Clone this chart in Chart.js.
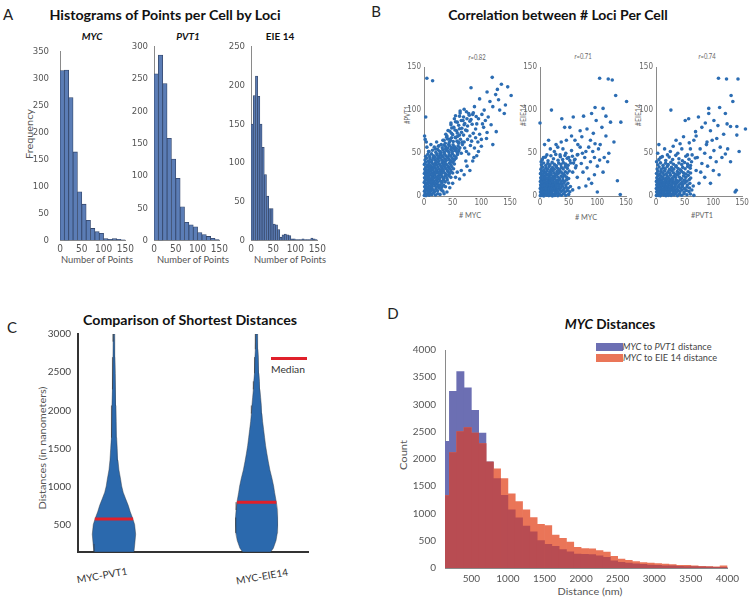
<!DOCTYPE html>
<html>
<head>
<meta charset="utf-8">
<script src="https://cdn.jsdelivr.net/npm/chart.js@4.4.1/dist/chart.umd.min.js"></script>
<style>
  body { margin: 0; width: 750px; height: 599px; position: relative; overflow: hidden; background: #fff; font-family: Lato, "Open Sans", sans-serif; }
  canvas { position: absolute; }
  .t { position: absolute; white-space: nowrap; transform: translate(-50%, -50%); line-height: 1; }
  .letter { font-size: 15px; color: #222; }
  .title { font-size: 14px; font-weight: bold; color: #111; }
  .sub { font-size: 10px; font-weight: bold; color: #111; }
  .lab { font-size: 10px; color: #555; }
  .small { font-size: 8px; color: #666; }
  .leg { font-size: 9.5px; color: #444; }
  .key { position: absolute; }
</style>
</head>
<body>

<!-- panel letters -->
<div class="t letter" style="left:8px;top:14px">A</div>
<div class="t letter" style="left:376px;top:11px">B</div>
<div class="t letter" style="left:12px;top:327px">C</div>
<div class="t letter" style="left:393px;top:313px">D</div>

<!-- panel A text -->
<div class="t title" style="left:165px;top:15px" data-w="231">Histograms of Points per Cell by Loci</div>
<div class="t sub" style="left:92px;top:36px"><i>MYC</i></div>
<div class="t sub" style="left:188px;top:36px"><i>PVT1</i></div>
<div class="t sub" style="left:280px;top:36px">EIE 14</div>
<div class="t lab" style="left:29px;top:134px" data-r="-90" data-w="50">Frequency</div>
<div class="t lab" style="left:97px;top:259px" data-w="72">Number of Points</div>
<div class="t lab" style="left:193px;top:259px" data-w="72">Number of Points</div>
<div class="t lab" style="left:290px;top:259px" data-w="72">Number of Points</div>

<!-- panel B text -->
<div class="t title" style="left:558px;top:15px" data-w="220">Correlation between # Loci Per Cell</div>
<div class="t small" style="left:477px;top:57px" data-w="17"><i>r</i>=0.82</div>
<div class="t small" style="left:583px;top:56px" data-w="17"><i>r</i>=0.71</div>
<div class="t small" style="left:707px;top:56px" data-w="17"><i>r</i>=0.74</div>
<div class="t small" style="left:407px;top:115px" data-r="-90" data-w="18">#PVT1</div>
<div class="t small" style="left:523px;top:115px" data-r="-90" data-w="22">#EIE14</div>
<div class="t small" style="left:638px;top:115px" data-r="-90" data-w="22">#EIE14</div>
<div class="t small" style="left:470px;top:215px" data-w="22"># MYC</div>
<div class="t small" style="left:586px;top:217px" data-w="22"># MYC</div>
<div class="t small" style="left:702px;top:215px" data-w="22">#PVT1</div>

<!-- panel C text -->
<div class="t title" style="left:190px;top:320px;font-size:13px" data-w="214">Comparison of Shortest Distances</div>
<div class="t lab" style="left:42px;top:448px" data-r="-90" data-w="123">Distances (in nanometers)</div>
<div class="t lab" style="left:102px;top:575px;color:#333" data-r="-10" data-w="51">MYC-PVT1</div>
<div class="t lab" style="left:262px;top:576px;color:#333" data-r="-10" data-w="53">MYC-EIE14</div>
<div class="key" style="left:271px;top:357px;width:36px;height:3px;background:#e0202a"></div>
<div class="t lab" style="left:288px;top:369px;color:#333" data-w="34">Median</div>

<!-- panel D text -->
<div class="t title" style="left:610px;top:324px;font-size:13px" data-w="90"><i>MYC</i> Distances</div>
<div class="t lab" style="left:403px;top:455px" data-r="-90" data-w="30">Count</div>
<div class="t lab" style="left:590px;top:591px" data-w="65">Distance (nm)</div>
<div class="key" style="left:596px;top:343px;width:27px;height:8px;background:#6c6fb3"></div>
<div class="key" style="left:596px;top:354px;width:27px;height:8px;background:#ea7558"></div>
<div class="t leg" style="left:667px;top:347px" data-w="89"><i>MYC</i> to <i>PVT1</i> distance</div>
<div class="t leg" style="left:670px;top:358px" data-w="94"><i>MYC</i> to EIE 14 distance</div>

<script>
// ---- panel A: points per cell histograms ----
const histBinWidth = 10;
const mycCounts = [315, 316, 265, 164, 90, 67, 37, 22, 16, 13, 3, 2, 3, 2, 1];
const pvt1Counts = [258, 287, 243, 158, 126, 96, 52, 28, 24, 21, 12, 9, 6, 3, 1];
const eie14BinWidth = 5;
const eie14Counts = [150, 187, 212, 186, 150, 120, 85, 57, 41, 41, 21, 20, 14, 4, 7, 8, 7, 6, 2, 2, 1, 1, 1, 2, 1, 1, 1, 3, 2, 1];
const histYMax = [350, 300, 250];
const histXTicks = [0, 50, 100, 150];

// ---- panel B: loci per cell scatter (flat x, y pairs) ----
const scatterTicks = [0, 50, 100, 150];
const mycPvt1Pts = [
  5,137, 15,134, 119,138, 82,126, 135,130, 128,124, 146,127, 152,117, 110,121, 97,113, 130,112, 142,106, 120,104, 88,104,
  70,101, 63,99, 78,96, 101,95, 112,92, 126,75, 107,88, 82,89, 92,84, 70,83, 66,79, 57,76, 62,71, 104,80, 97,72, 86,73,
  76,66, 94,63, 109,67, 81,59, 88,56, 100,58, 71,56, 65,50, 78,49, 92,47, 85,41, 73,41, 3,92, 1,70, 4,63, 2,66, 117,83,
  140,96, 75,76, 68,88, 58,86, 52,80, 48,73, 55,68, 45,66, 60,63, 70,63, 80,70, 90,78, 95,90, 85,95, 75,90, 105,100,
  115,110, 125,118, 132,100, 102,84, 67,60, 74,52, 83,64, 90,68, 60,52, 50,56, 43,60, 38,55, 30,60, 35,65, 25,58, 20,55,
  12,60, 8,52, 5,57, 40,70, 47,85, 62,93, 53,90, 100,66, 110,74, 120,60, 95,52, 87,45, 65,30, 75,35, 80,30, 58,28, 70,25,
  62,20, 50,15, 45,10, 40,5, 35,3, 55,22,
  0.5,1, 2,3.2, 3.5,0.8, 5,2.5, 7,4.1, 9,1.3, 11,3.6, 14,2, 17,4.4, 20,1.5, 24,3, 28,2.2,
  0.8,6, 2.6,8.5, 4.3,7, 6.1,9.3, 7.9,5.8, 9.7,8, 12,6.5, 13.8,9.1, 16.2,7.2, 18.5,5.5, 21,8.8, 23.6,6.3, 26.4,9.5, 29.8,7.5, 33,6,
  1.2,11, 3,13.5, 4.8,10.6, 6.5,14.2, 8.6,12, 10.4,10.3, 12.5,13.8, 14.3,11.4, 16.7,14.6, 19,12.2, 21.4,10.8, 23.2,14, 25.7,11.6,
  28.5,13.2, 31,10.4, 34.2,12.8, 37.5,11,
  0.4,16, 2.2,18.7, 4,15.5, 5.9,19.4, 7.3,17, 9.2,15.8, 11.1,18.9, 13,16.4, 15.2,19.6, 17.4,17.3, 19.6,15.2, 21.8,18.5, 24,16.6,
  26.3,19.8, 28.8,17.6, 31.5,15.9, 34,18.8, 37,16.7, 40.5,19, 43,15.5,
  1,21.5, 3.1,24, 5.2,20.7, 6.8,23.6, 8.9,21.9, 10.8,24.7, 12.7,20.4, 14.6,23.1, 16.5,21, 18.7,24.4, 20.9,22.2, 23,20.6, 25.1,23.8,
  27.4,21.4, 29.6,24.6, 32,22.5, 34.5,20.8, 37.2,23.9, 40,21.6, 43.4,24.2, 46.8,22,
  0.6,26.4, 2.5,29.2, 4.6,27, 6.4,25.5, 8.3,28.6, 10.2,26.2, 12.2,29.5, 14,27.3, 16,25.4, 18.1,28.3, 20.3,26.6, 22.4,29.8, 24.6,27.6,
  26.8,25.7, 29,28.9, 31.3,26.8, 33.8,29.4, 36.3,27.1, 38.9,25.3, 41.5,28.7, 44.2,26.3, 47,29, 50,27,
  1.4,31.5, 3.6,33.8, 5.5,30.6, 7.4,34.4, 9.5,32, 11.5,30.3, 13.5,33.5, 15.6,31.2, 17.7,34.7, 19.8,32.5, 22,30.8, 24.2,34, 26.4,31.7,
  28.7,30.2, 31,33.3, 33.2,31, 35.6,34.5, 38,32.2, 40.5,30.5, 43,33.6, 45.7,31.4, 48.5,34.2, 51.5,32,
  0.7,37, 2.9,39.4, 6.2,36.2, 8.7,38.7, 11,35.6, 13.2,39.6, 15.4,37.4, 17.6,35.3, 19.9,38.4, 22.2,36.5, 24.5,39.7, 26.9,37.2, 29.2,35.5,
  31.6,38.9, 34,36.6, 36.5,39.2, 39,37, 41.6,35.2, 44.3,38.5, 47,36.4, 50,39.5, 53,37.5,
  1.8,42, 4.4,44.2, 7.7,41, 10.6,43.7, 13.8,41.6, 16.3,44.6, 18.9,42.3, 21.3,40.4, 23.8,43.5, 26.2,41.3, 28.6,44.4, 31.2,42.1, 33.7,40.3,
  36.2,43.3, 38.8,41.5, 41.4,44.8, 44,42.6, 46.7,40.6, 49.5,43.8, 52.4,41.7, 55.5,44,
  3,46.5, 6.8,48.8, 10,46, 13,49.2, 16.8,47, 19.5,45.5, 22.5,48.6, 25.4,46.3, 28,49.6, 30.6,47.4, 33.4,45.7, 36,48.9, 38.6,46.8,
  41.3,45.2, 44,48.2, 46.8,46.5, 49.7,49.4, 52.6,47.1, 55.8,45.6, 58.5,48.5,
  8.5,52, 14.8,53.5, 20.7,51, 24,54.3, 27.3,52.2, 30,50.6, 32.8,53.8, 35.5,51.4, 38.2,54.7, 41,52.6, 43.7,50.8, 46.5,54, 49.3,51.9,
  52.2,54.8, 55,52.8, 58,50.5, 61,53.6,
  18,57, 26,58.5, 31.8,56.2, 35,59.3, 38,57.5, 41.2,55.6, 44.5,58.6, 47.6,56.5, 50.7,59.7, 53.5,57.4, 56.6,55.4, 59.5,58.4, 62.5,56.3,
  22,63, 33,65, 37,61.5, 41,66.5, 44,62.5, 48,67.8, 51,63.5, 54.5,68.5, 57.5,64, 60.5,61.5, 63.5,66.2, 66.5,62.8, 46,64.8, 39.5,68.6, 58.3,69.4,
  38,72, 45,75.5, 50,71.5, 54,77, 58,73.3, 62,78.4, 65.5,74.2, 69,71, 72.5,76.8, 48.5,79.2, 42,76.4,
  47,83, 55,86.5, 60.5,82.5, 65,88, 71,84.5, 76,81.5, 80,87, 84,83.5,
  55,93.5, 63,96.5, 69,92, 74,98, 79,94, 86,97, 91,92.5
];
const mycEie14Pts = [
  104,137, 119,136, 126,135, 132,117, 151,110, 20,100, 96,103, 110,102, 76,93, 58,92, 90,96, 123,86, 141,86, 157,96, 0,85,
  129,63, 38,90, 43,80, 52,80, 70,76, 82,78, 93,73, 73,69, 88,65, 61,65, 46,65, 96,61, 102,55, 85,57, 70,57, 55,53, 37,63,
  31,57, 115,70, 108,80, 120,50, 95,45, 88,40, 78,45, 65,48, 60,42, 72,38, 82,33, 100,35, 110,28, 95,25, 75,28, 65,22,
  90,15, 80,12, 100,5, 68,10, 140,2, 135,18, 112,45, 118,40, 104,42, 74,50, 50,45, 45,50, 40,55, 35,48, 28,60, 25,52,
  18,55, 12,48, 6,45, 2,40, 8,60, 15,65, 55,70, 66,60, 80,52, 92,52, 62,33, 57,28, 85,20, 105,60, 98,88, 115,93,
  0.5,0.6, 1.8,2.4, 3.3,1.1, 4.9,3.2, 6.6,0.4, 8.2,2.1, 9.9,3.7, 11.7,1.3, 13.5,2.9, 15.4,0.8, 17.2,3.5, 19.3,1.7, 21.5,0.3,
  23.6,2.6, 26,1, 28.5,3.3, 31.2,0.6, 34,2.3, 37.4,1.2, 41,3, 45,0.9, 50,2.2,
  0.9,5.1, 2.5,7.4, 4.1,4.6, 5.7,6.9, 7.4,5.5, 9.1,7.8, 10.9,4.3, 12.6,6.4, 14.5,7.9, 16.3,5, 18.2,7.1, 20.1,4.8, 22.2,6.7,
  24.3,7.7, 26.6,5.3, 29,6.9, 31.6,4.5, 34.3,7.5, 37,5.6, 40.2,7, 43.8,4.9, 47.5,6.6, 52,5.2, 57,7.4,
  0.4,9, 1.9,11.5, 3.6,8.6, 5.3,10.7, 7,9.3, 8.8,11.8, 10.5,8.2, 12.3,10.4, 14.1,11.9, 16,9, 17.9,11.2, 19.8,8.5, 21.8,10.3,
  23.9,11.7, 26.1,9.2, 28.4,11.4, 30.8,8.7, 33.3,10.8, 36,9.5, 38.8,11.6, 41.9,8.9, 45.3,10.6, 49,9.4, 53,11.3,
  1.1,13.3, 2.9,15.6, 4.7,12.6, 6.4,14.8, 8.2,13, 10,15.7, 11.9,12.4, 13.8,14.5, 15.7,15.9, 17.6,13.1, 19.6,15.2, 21.6,12.7,
  23.7,14.6, 25.9,15.8, 28.2,13.4, 30.6,15.3, 33.1,12.8, 35.8,14.9, 38.6,13.5, 41.7,15.6, 45,13, 48.6,15,
  0.6,17.2, 2.4,19.5, 4.3,16.6, 6.1,18.9, 8,17.4, 9.9,19.8, 11.8,16.3, 13.7,18.4, 15.8,19.6, 17.8,16.9, 19.9,18.9, 22,17.3,
  24.2,19.7, 26.5,16.5, 28.9,18.6, 31.4,17.1, 34,19.4, 36.8,16.8, 39.8,18.7, 43,17.5, 46.6,19.3,
  1.3,21.4, 3.3,24.1, 5.2,20.6, 7.2,23.3, 9.2,21.8, 11.2,24.6, 13.2,20.9, 15.3,23.5, 17.4,21.5, 19.5,24.4, 21.7,20.8, 24,23.2,
  26.3,21.7, 28.8,24.7, 31.3,22.3, 34,20.5, 36.8,23.6, 39.8,21.9, 43,24.2, 46.4,22.4, 50,20.7,
  0.8,26.3, 3,28.9, 5.3,25.6, 7.6,28.2, 9.9,26.8, 12.2,29.4, 14.6,25.9, 17,28.4, 19.4,26.5, 21.9,29.6, 24.4,27.2, 27,25.4,
  29.6,28.6, 32.3,26.6, 35.1,29.1, 38,27.3, 41,25.7, 44.2,28.4, 47.5,26.9, 51,29.3,
  1.6,31.5, 4.4,33.9, 7.3,30.8, 10.2,33.2, 13.1,31.7, 16,34.6, 18.9,30.9, 21.8,33.4, 24.8,31.4, 27.8,34.3, 30.9,32.2, 34,30.6,
  37.2,33.5, 40.5,31.8, 44,34.5, 47.6,32.4,
  2.5,36.5, 6.4,38.7, 10.1,35.8, 13.8,38.2, 17.5,36.6, 21.2,39.3, 25,37, 28.8,35.4, 32.6,38.5, 36.5,36.8, 40.5,39.1, 44.6,37.3,
  49,35.9, 53.5,38.6,
  4,42.5, 9.5,45.5, 14,41.2, 19,47, 23.5,43.5, 27.5,48.6, 31.5,41.8, 35.5,45.8, 39.5,42.6, 43.5,47.4, 47.5,44, 52,41.5, 56.5,46.5,
  61,43, 66,48.5, 58.5,38.5, 63,35.5
];
const pvt1Eie14Pts = [
  109,137, 123,136, 143,136, 131,117, 134,110, 156,78, 26,100, 92,102, 111,103, 121,96, 101,88, 124,84, 130,81, 141,81,
  141,71, 140,7, 138,5, 57,90, 51,88, 74,92, 80,80, 95,76, 69,75, 106,67, 112,57, 121,49, 89,63, 101,53, 77,55, 66,65,
  48,69, 42,61, 115,45, 105,40, 95,45, 85,50, 90,35, 100,30, 110,25, 80,38, 72,45, 60,55, 55,48, 62,40, 70,30, 78,28,
  85,22, 95,15, 75,15, 65,12, 88,60, 98,65, 118,72, 108,82, 86,85, 70,70, 58,62, 45,55, 38,50, 30,58, 25,52, 20,48,
  15,55, 8,45, 3,50, 5,60, 1,40, 35,65, 130,40, 125,55, 145,52, 92,96,
  0.6,0.8, 2.2,2.6, 3.9,1, 5.7,3.4, 7.5,0.5, 9.4,2.2, 11.3,3.8, 13.3,1.4, 15.3,3, 17.4,0.7, 19.5,2.5, 21.7,1.1, 24,3.6,
  26.4,0.9, 28.9,2.8, 31.6,1.5, 34.4,3.3, 37.5,0.6, 41,2.4, 44.8,1.2, 49,3.1, 54,1.8, 60,2.6, 66,1.1,
  1.1,5.3, 2.9,7.5, 4.7,4.8, 6.6,6.8, 8.5,5.6, 10.5,7.9, 12.5,4.4, 14.6,6.3, 16.7,7.8, 18.8,5.1, 21,7.2, 23.2,4.7, 25.5,6.6,
  27.9,7.7, 30.4,5.4, 33,7, 35.8,4.6, 38.7,6.8, 41.8,5.3, 45.2,7.4, 48.9,4.9, 53,6.7, 57.5,5.5, 62.5,7.3,
  0.5,9.1, 2.3,11.4, 4.2,8.7, 6.1,10.8, 8.1,9.4, 10.1,11.8, 12.2,8.3, 14.3,10.5, 16.5,11.9, 18.7,9.1, 21,11.1, 23.3,8.6,
  25.7,10.4, 28.2,11.8, 30.8,9.3, 33.5,11.3, 36.3,8.8, 39.3,10.9, 42.5,9.5, 46,11.5, 49.8,8.9, 54,10.7, 58.5,9.6,
  1.3,13.4, 3.3,15.5, 5.3,12.7, 7.4,14.9, 9.5,13.1, 11.7,15.8, 13.9,12.5, 16.2,14.6, 18.5,15.9, 20.9,13.2, 23.3,15.3,
  25.8,12.8, 28.4,14.7, 31.1,15.7, 33.9,13.5, 36.8,15.4, 39.9,12.9, 43.2,14.8, 46.7,13.6, 50.5,15.6, 54.6,13, 59,15,
  0.7,17.3, 2.8,19.6, 5,16.7, 7.2,18.9, 9.5,17.5, 11.8,19.8, 14.2,16.4, 16.6,18.5, 19.1,19.7, 21.6,17, 24.2,19, 26.9,17.4,
  29.7,19.5, 32.6,16.6, 35.6,18.7, 38.8,17.2, 42.2,19.4, 45.8,16.9, 49.6,18.8, 53.8,17.6, 58.2,19.5,
  1.5,21.5, 4,24.2, 6.5,20.7, 9,23.4, 11.6,21.9, 14.2,24.7, 16.9,21, 19.6,23.6, 22.4,21.6, 25.3,24.5, 28.2,20.9, 31.2,23.3,
  34.3,21.8, 37.5,24.8, 40.9,22.4, 44.4,20.6, 48.1,23.7, 52,22, 56.2,24.3, 60.5,21.2,
  0.9,26.4, 3.6,29, 6.4,25.7, 9.2,28.3, 12.1,26.9, 15,29.5, 18,26, 21,28.5, 24.1,26.6, 27.3,29.7, 30.5,27.3, 33.8,25.5,
  37.2,28.7, 40.7,26.7, 44.3,29.2, 48,27.4, 51.9,25.8, 56,28.5, 60.3,27,
  2,31.6, 5.5,34, 9,30.9, 12.5,33.3, 16.1,31.8, 19.7,34.7, 23.3,31, 27,33.5, 30.8,31.5, 34.6,34.4, 38.5,32.3, 42.5,30.7,
  46.6,33.6, 50.8,31.9, 55.2,34.6, 59.7,32.5,
  3.2,36.6, 7.8,38.8, 12.3,35.9, 16.8,38.3, 21.3,36.7, 25.9,39.4, 30.5,37.1, 35.2,35.5, 40,38.6, 44.9,36.9, 49.9,39.2,
  55,37.4, 60.2,35.8,
  5,42.5, 11,46, 17,41.5, 23,45.5, 29,42.6, 34.5,47.5, 40,43.5, 46,41.2, 52,46.5, 57.5,43, 63,48, 68.5,44.5
];

// ---- panel C: violin profiles (distance level -> half width in x units) ----
const violinCenters = [1, 2];
const violinYTicks = [500, 1000, 1500, 2000, 2500, 3000];
const violin1Levels = [150, 255, 382, 508, 592, 676, 760, 845, 929, 1013, 1097, 1223, 1350, 1500, 1644, 1855, 2065, 2276, 2486, 2697, 2900, 3000];
const violin1Half = [0.140, 0.146, 0.152, 0.145, 0.131, 0.114, 0.100, 0.082, 0.065, 0.054, 0.047, 0.035, 0.028, 0.023, 0.019, 0.016, 0.014, 0.012, 0.009, 0.007, 0.006, 0.005];
const violin2Levels = [150, 200, 300, 400, 500, 600, 700, 802, 929, 1013, 1118, 1223, 1329, 1434, 1540, 1644, 1750, 1855, 1960, 2065, 2171, 2276, 2381, 2486, 2592, 2697, 2800, 3000];
const violin2Half = [0.098, 0.117, 0.136, 0.145, 0.149, 0.148, 0.144, 0.138, 0.126, 0.119, 0.107, 0.093, 0.082, 0.072, 0.063, 0.056, 0.049, 0.042, 0.037, 0.033, 0.028, 0.023, 0.020, 0.016, 0.014, 0.012, 0.009, 0.007];
const medianValues = [580, 800];
const medianHalf = [0.134, 0.138];

// ---- panel D: MYC distance histograms (100 nm bins from 100 nm) ----
const distBinStart = 100;
const distBinWidth = 100;
const distXTicks = [500, 1000, 1500, 2000, 2500, 3000, 3500, 4000];
const distYTicks = [0, 500, 1000, 1500, 2000, 2500, 3000, 3500, 4000];
const pvt1DistCounts = [2323, 3241, 3603, 3307, 2892, 2477, 1950, 1641, 1333, 1067, 919, 770, 664, 504, 433, 397, 338, 296, 255, 250,
  245, 225, 195, 130, 105, 90, 75, 68, 55, 50, 42, 38, 32, 28, 24, 20, 15, 12, 14];
const eie14DistCounts = [1330, 2120, 2505, 2578, 2475, 2281, 1944, 1819, 1641, 1360, 1220, 1067, 925, 800, 780, 605, 545, 475, 380, 355,
  350, 320, 290, 215, 165, 140, 118, 100, 89, 80, 71, 65, 50, 47, 40, 30, 25, 20, 38];

Chart.defaults.font.family = "Lato, 'Open Sans', sans-serif";
Chart.defaults.animation = false;
const narrowFont = "'Liberation Sans Narrow', 'DejaVu Sans Condensed', Lato, sans-serif";

const pairs = (flat) => {
    const out = [];
    for (let i = 0; i < flat.length; i += 2) out.push({ x: flat[i], y: flat[i + 1] });
    return out;
};

const binned = (counts, start, width) => counts.map((c, i) => ({ x: start + i * width + width / 2, y: c }));

const linAxis = (min, max, step, opts = {}) => ({
    type: "linear",
    min,
    max,
    ticks: {
        stepSize: step,
        autoSkip: false,
        maxRotation: 0,
        color: opts.tickColor || "#555",
        font: opts.family ? { size: opts.fontSize || 10, family: opts.family } : { size: opts.fontSize || 10 },
        padding: opts.pad ?? 4,
        display: opts.showTicks !== false,
        callback: (v) => String(v)
    },
    grid: { display: false, drawTicks: false },
    border: { display: true, color: opts.borderColor || "#8a8a8a", width: opts.borderWidth || 1 },
    afterBuildTicks: opts.tickList ? (s) => { s.ticks = opts.tickList.map((v) => ({ value: v })); } : undefined
});

// place a chart so that its plot area lands on the given box
const makeChart = (box, yw, xh, pad, config) => {
    const canvas = document.createElement("canvas");
    const w = Math.round(yw + box.w + pad.r);
    const h = Math.round(pad.t + box.h + xh);
    canvas.width = w;
    canvas.height = h;
    canvas.style.left = `${box.x - yw}px`;
    canvas.style.top = `${box.y - pad.t}px`;
    canvas.style.width = `${w}px`;
    canvas.style.height = `${h}px`;
    document.body.appendChild(canvas);

    config.options.responsive = false;
    config.options.layout = { padding: { top: pad.t, right: w - yw - box.w, left: 0, bottom: 0 } };
    config.options.plugins = { legend: { display: false }, tooltip: { enabled: false } };
    config.options.scales.x.afterFit = (s) => { s.height = h - pad.t - box.h; };
    config.options.scales.y.afterFit = (s) => { s.width = yw; };
    return new Chart(canvas, config);
};

// ---- panel A charts ----
const histBoxes = [
    { x: 60, y: 42.7, w: 67, h: 197.3 },
    { x: 154, y: 42.7, w: 67, h: 197.3 },
    { x: 251, y: 42.7, w: 68, h: 197.3 }
];
const histTickPad = [11, 6, 6];
const histSets = [
    binned(mycCounts, 0, histBinWidth),
    binned(pvt1Counts, 0, histBinWidth),
    binned(eie14Counts, 0, eie14BinWidth)
];
histSets.forEach((points, i) => {
    makeChart(histBoxes[i], 30, 20, { t: 8, r: 10 }, {
        type: "bar",
        data: {
            datasets: [{
                data: points,
                backgroundColor: "#5b7db6",
                borderColor: "#34476b",
                borderWidth: 0.8,
                barPercentage: 1,
                categoryPercentage: 1
            }]
        },
        options: {
            scales: {
                x: { ...linAxis(0, 150, 50, { pad: 3, tickList: histXTicks, family: narrowFont, fontSize: 10 }), offset: false },
                y: linAxis(0, histYMax[i], 50, { pad: histTickPad[i], family: narrowFont, fontSize: 9.5 })
            }
        }
    });
});

// ---- panel B charts ----
const scatterBoxes = [
    { x: 424, y: 66.7, w: 86, h: 129.3 },
    { x: 540, y: 66.7, w: 86, h: 129.3 },
    { x: 655.5, y: 66.7, w: 86, h: 129.3 }
];
[mycPvt1Pts, mycEie14Pts, pvt1Eie14Pts].forEach((flat, i) => {
    makeChart(scatterBoxes[i], 22, 16, { t: 8, r: 12 }, {
        type: "scatter",
        data: {
            datasets: [{
                data: pairs(flat),
                pointRadius: 1.8,
                pointBorderWidth: 0,
                backgroundColor: "#2c6db3",
                clip: false
            }]
        },
        options: {
            scales: {
                x: linAxis(0, 150, 50, { fontSize: 8, pad: 2, tickColor: "#666", tickList: scatterTicks, family: narrowFont }),
                y: linAxis(0, 150, 50, { fontSize: 8, pad: 3, tickColor: "#666", tickList: scatterTicks, family: narrowFont })
            }
        }
    });
});

// ---- panel C: violins ----
const violinOutline = (center, levels, half) => {
    const right = levels.map((v, i) => ({ x: center + half[i], y: v }));
    const left = levels.map((v, i) => ({ x: center - half[i], y: v })).reverse();
    return right.concat(left, [right[0]]);
};

const violinFill = {
    id: "violinFill",
    beforeDatasetsDraw(chart) {
        const { ctx, chartArea } = chart;
        chart.data.datasets.forEach((ds, i) => {
            if (!ds.violinColor) return;
            const pts = chart.getDatasetMeta(i).data;
            ctx.save();
            ctx.beginPath();
            ctx.rect(chartArea.left, chartArea.top, chartArea.right - chartArea.left, chartArea.bottom - chartArea.top);
            ctx.clip();
            ctx.beginPath();
            pts.forEach((p, k) => (k ? ctx.lineTo(p.x, p.y) : ctx.moveTo(p.x, p.y)));
            ctx.closePath();
            ctx.fillStyle = ds.violinColor;
            ctx.fill();
            ctx.restore();
        });
    }
};

const violinSets = [
    violinOutline(violinCenters[0], violin1Levels, violin1Half),
    violinOutline(violinCenters[1], violin2Levels, violin2Half)
].map((pts) => ({
    data: pts,
    showLine: true,
    violinColor: "#2b69ad",
    borderColor: "rgba(50, 55, 65, 0.75)",
    borderWidth: 0.6,
    pointRadius: 0,
    tension: 0
}));

const medianSets = medianValues.map((m, i) => ({
    data: [{ x: violinCenters[i] - medianHalf[i], y: m }, { x: violinCenters[i] + medianHalf[i], y: m }],
    showLine: true,
    borderColor: "#e0202a",
    borderWidth: 3,
    pointRadius: 0
}));

makeChart({ x: 78, y: 329.3, w: 230, h: 225.7 }, 40, 10, { t: 8, r: 4 }, {
    type: "scatter",
    data: { datasets: [...medianSets, ...violinSets] },
    options: {
        scales: {
            x: linAxis(0.748, 2.36, 1, { showTicks: false, borderColor: "#333", borderWidth: 2, tickList: violinCenters }),
            y: linAxis(150, 3000, 500, { borderColor: "#333", borderWidth: 2, pad: 7, tickColor: "#444", tickList: violinYTicks })
        }
    },
    plugins: [violinFill]
});

// ---- panel D: overlapping histograms ----
const pvt1Bins = binned(pvt1DistCounts, distBinStart, distBinWidth);
const eie14Bins = binned(eie14DistCounts, distBinStart, distBinWidth);
const overlapBins = pvt1Bins.map((p, i) => ({ x: p.x, y: Math.min(p.y, eie14Bins[i].y) }));
const barStyle = { barPercentage: 1, categoryPercentage: 1, borderWidth: 0, grouped: false };

makeChart({ x: 445, y: 343.3, w: 285, h: 225 }, 40, 20, { t: 8, r: 14 }, {
    type: "bar",
    data: {
        datasets: [
            { data: overlapBins, backgroundColor: "#b84c52", order: 0, ...barStyle },
            { data: eie14Bins, backgroundColor: "#ea7558", order: 1, ...barStyle },
            { data: pvt1Bins, backgroundColor: "#6c6fb3", order: 2, ...barStyle }
        ]
    },
    options: {
        scales: {
            x: { ...linAxis(140, 4000, 500, { pad: 5, tickList: distXTicks }), offset: false },
            y: linAxis(0, 4000, 500, { pad: 9, tickList: distYTicks })
        }
    }
});

// stretch or squeeze text labels to the measured widths
document.querySelectorAll(".t").forEach((el) => {
    const target = Number(el.dataset.w || 0);
    const k = target ? target / el.offsetWidth : 1;
    const r = Number(el.dataset.r || 0);
    el.style.transform = `translate(-50%, -50%) rotate(${r}deg) scaleX(${k})`;
});
</script>
</body>
</html>
